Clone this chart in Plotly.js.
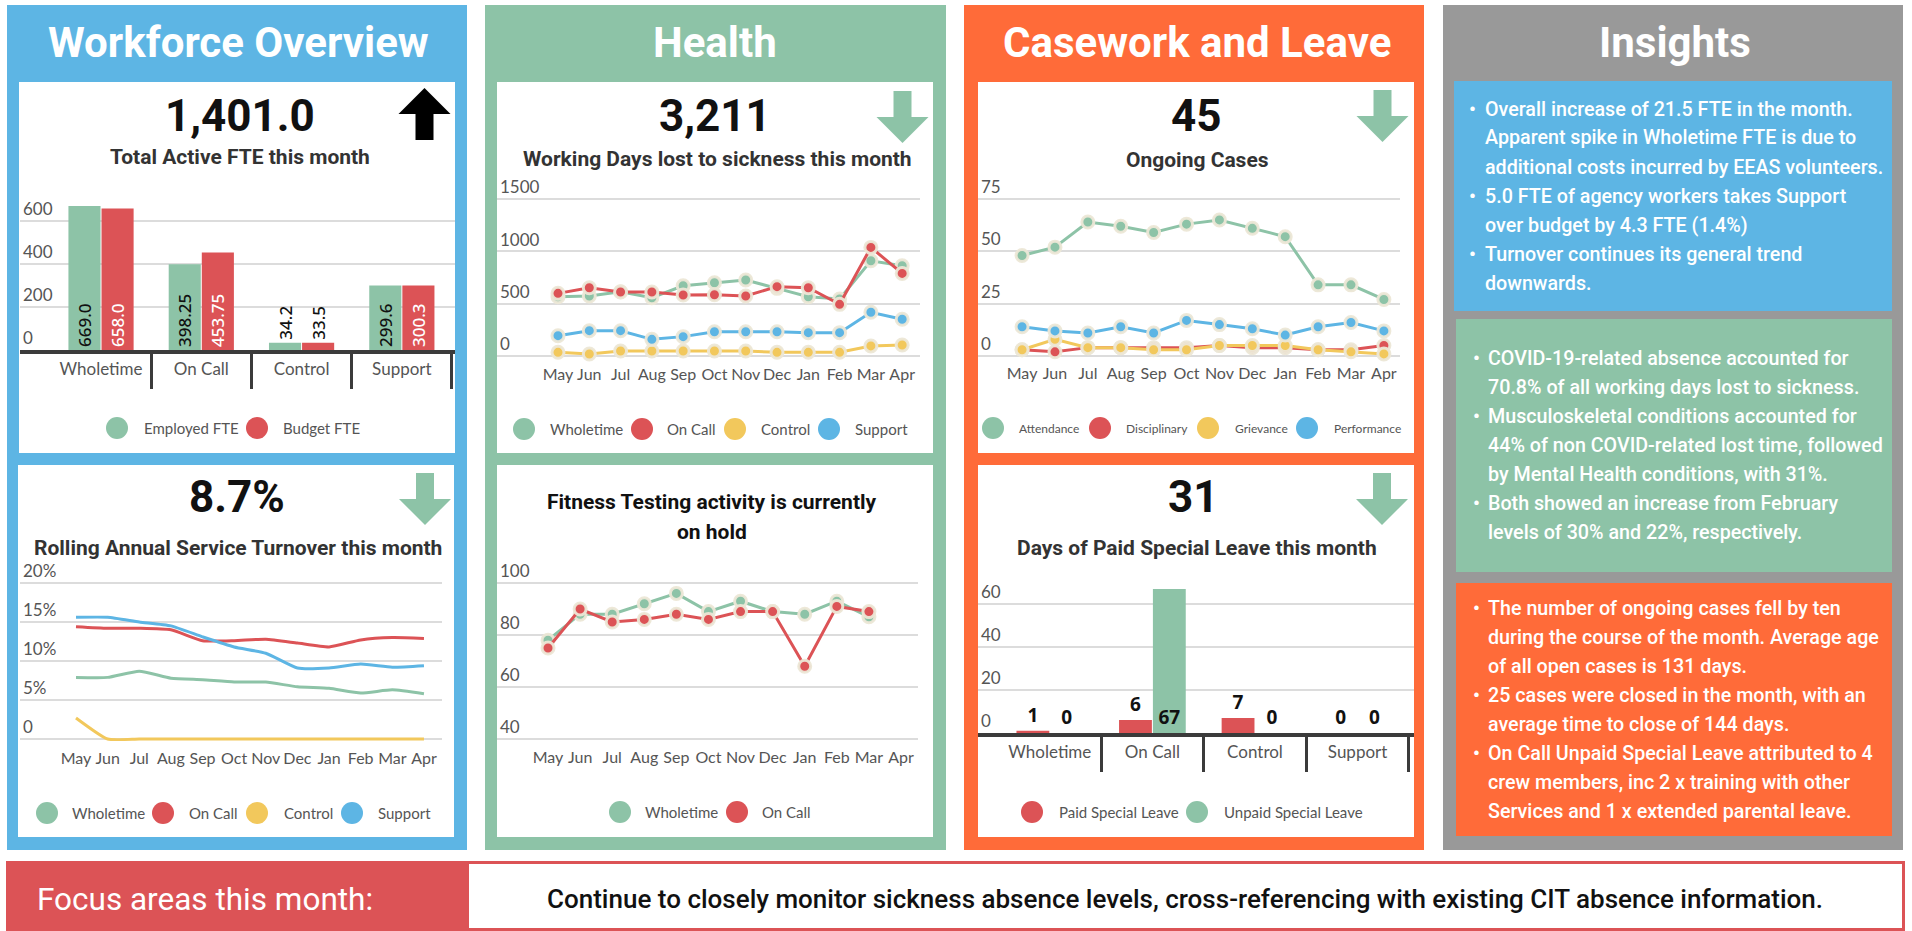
<!DOCTYPE html>
<html>
<head>
<meta charset="utf-8">
<script src="https://cdn.plot.ly/plotly-3.0.1.min.js"></script>
<style>
  html, body { margin: 0; padding: 0; background: #fff; overflow: hidden; }
  #dash { width: 1912px; height: 931px; }
</style>
</head>
<body>
<div id="dash"></div>
<script>
// --- data ---
const months = ['May', 'Jun', 'Jul', 'Aug', 'Sep', 'Oct', 'Nov', 'Dec', 'Jan', 'Feb', 'Mar', 'Apr'];
const staffGroups = ['Wholetime', 'On Call', 'Control', 'Support'];

// workforce
const employedFte = [669.0, 398.25, 34.2, 299.6];
const budgetFte = [658.0, 453.75, 33.5, 300.3];

// rolling annual turnover (%)
const turnoverWholetime = [7.9, 7.9, 8.7, 7.8, 7.6, 7.3, 7.3, 6.7, 6.5, 5.9, 6.3, 5.8];
const turnoverOnCall = [14.4, 14.2, 14.2, 14.0, 12.6, 12.6, 12.8, 12.3, 11.8, 12.7, 13.0, 12.9];
const turnoverControl = [2.7, 0, 0, 0, 0, 0, 0, 0, 0, 0, 0, 0];
const turnoverSupport = [15.6, 15.6, 15.0, 14.5, 13.1, 11.8, 11.0, 9.1, 9.1, 9.6, 9.2, 9.4];

// working days lost to sickness
const sickWholetime = [567, 574, 615, 557, 672, 701, 727, 647, 567, 545, 911, 863];
const sickOnCall = [599, 653, 612, 612, 583, 586, 574, 663, 653, 494, 1039, 790];
const sickControl = [35, 19, 48, 48, 48, 48, 48, 35, 35, 35, 96, 105];
const sickSupport = [194, 242, 242, 159, 185, 232, 232, 232, 223, 223, 418, 351];

// fitness testing (Apr not recorded)
const fitnessWholetime = [78, 88, 88, 92, 96, 89, 93, 89, 88, 93, 87, null];
const fitnessOnCall = [75, 90, 85, 86, 88, 86, 89, 89, 68, 91, 89, null];

// ongoing cases
const casesAttendance = [48, 52, 64, 62, 59, 63, 65, 61, 57, 34, 34, 27];
const casesDisciplinary = [3, 2, 4, 4, 4, 4, 5, 4, 4, 3, 3, 5];
const casesGrievance = [3, 8, 4, 4, 3, 3, 5, 5, 5, 3, 2, 1];
const casesPerformance = [14, 12, 11, 14, 11, 17, 15, 13, 10, 14, 16, 12];

// special leave days
const paidLeave = [1, 6, 7, 0];
const unpaidLeave = [0, 67, 0, 0];

// headline figures
const headlines = {
    fte: '1,401.0', turnover: '8.7%', sickness: '3,211', cases: '45', leave: '31'
};

const insightsWorkforce = [
    ['Overall increase of 21.5 FTE in the month.', 'Apparent spike in Wholetime FTE is due to', 'additional costs incurred by EEAS volunteers.'],
    ['5.0 FTE of agency workers takes Support', 'over budget by 4.3 FTE (1.4%)'],
    ['Turnover continues its general trend', 'downwards.']
];
const insightsHealth = [
    ['COVID-19-related absence accounted for', '70.8% of all working days lost to sickness.'],
    ['Musculoskeletal conditions accounted for', '44% of non COVID-related lost time, followed', 'by Mental Health conditions, with 31%.'],
    ['Both showed an increase from February', 'levels of 30% and 22%, respectively.']
];
const insightsCasework = [
    ['The number of ongoing cases fell by ten', 'during the course of the month. Average age', 'of all open cases is 131 days.'],
    ['25 cases were closed in the month, with an', 'average time to close of 144 days.'],
    ['On Call Unpaid Special Leave attributed to 4', 'crew members, inc 2 x training with other', 'Services and 1 x extended parental leave.']
];
const focusText = 'Continue to closely monitor sickness absence levels, cross-referencing with existing CIT absence information.';

// --- helpers ---
const W = 1912, H = 931;
const fx = x => x / W;
const fy = y => 1 - y / H;

const GREEN = '#8dc3a7', RED = '#dc5356', YELLOW = '#f2c85c', BLUE = '#5db5e4';
const ORANGE = '#ff6b39', GREY = '#999999', TEXT = '#555555';

const shapes = [];
const annotations = [];

function rect(x0, y0, x1, y1, color) {
    shapes.push({
        type: 'rect', xref: 'paper', yref: 'paper', layer: 'below',
        x0: fx(x0), x1: fx(x1), y0: fy(y1), y1: fy(y0),
        fillcolor: color, line: { width: 0 }
    });
}

function label(x, y, text, size, color, opts) {
    opts = opts || {};
    annotations.push({
        xref: 'paper', yref: 'paper', x: fx(x), y: fy(y), text: text,
        showarrow: false, xanchor: opts.anchor || 'center', yanchor: 'middle',
        font: { family: opts.family || 'Roboto', size: size, color: color, weight: opts.weight || 400 }
    });
}

// block arrow, cx = centre, top = top pixel, up or down
function arrow(cx, top, up, color) {
    const hw = 26, sw = 9, hh = 26, h = 52;
    let pts;
    if (up) {
        pts = [[cx, top], [cx + hw, top + hh], [cx + sw, top + hh], [cx + sw, top + h],
               [cx - sw, top + h], [cx - sw, top + hh], [cx - hw, top + hh]];
    } else {
        pts = [[cx - sw, top], [cx + sw, top], [cx + sw, top + hh], [cx + hw, top + hh],
               [cx, top + h], [cx - hw, top + hh], [cx - sw, top + hh]];
    }
    const path = 'M' + pts.map(p => fx(p[0]) + ',' + fy(p[1])).join(' L') + ' Z';
    shapes.push({ type: 'path', xref: 'paper', yref: 'paper', path: path, fillcolor: color, line: { width: 0 } });
}

// legend row: circles + names
function legendRow(y, items, size) {
    items.forEach(it => {
        shapes.push({
            type: 'circle', xref: 'paper', yref: 'paper',
            x0: fx(it.cx - 11), x1: fx(it.cx + 11), y0: fy(y + 11), y1: fy(y - 11),
            fillcolor: it.color, line: { width: 0 }
        });
        label(it.tx, y, it.name, size, TEXT, { anchor: 'left', family: 'Lato' });
    });
}

function bullets(paras, bx, tx, y0, step) {
    let y = y0;
    paras.forEach(lines => {
        lines.forEach((line, i) => {
            if (i === 0) label(bx, y, '•', 19, '#fff', { weight: 700 });
            label(tx, y, line, 19.7, '#fff', { anchor: 'left', weight: 500 });
            y += step;
        });
    });
}

const tickFont = { family: 'Lato', size: 17, color: TEXT };
const monthFont = { family: 'Lato', size: 16, color: TEXT };

function valueAxis(bottom, top, range, tickvals, ticktext) {
    return {
        domain: [fy(bottom), fy(top)], range: range, tickvals: tickvals, ticktext: ticktext,
        ticklabelposition: 'inside top', ticks: '', showgrid: true, gridcolor: '#dcdcdc', gridwidth: 2,
        zeroline: false, showline: false, tickfont: tickFont, fixedrange: true
    };
}

function monthAxis(left, right, range, anchor) {
    return {
        domain: [fx(left), fx(right)], anchor: anchor, type: 'category', categoryarray: months,
        range: range, showgrid: false, zeroline: false, showline: false, ticks: '',
        tickangle: 0, ticklabelstandoff: 4, tickfont: monthFont, fixedrange: true
    };
}

function groupAxis(left, right, range, anchor) {
    return {
        domain: [fx(left), fx(right)], anchor: anchor, type: 'category', categoryarray: staffGroups,
        range: range, tickson: 'boundaries', ticks: 'outside', ticklen: 35, tickwidth: 3,
        tickcolor: '#3b3b3b', showline: true, linewidth: 4, linecolor: '#3b3b3b', tickangle: 0,
        showgrid: false, zeroline: false, tickfont: tickFont, ticklabelstandoff: 1, fixedrange: true
    };
}

function lineTrace(y, name, color, xa, ya, smooth) {
    const t = {
        type: 'scatter', x: months, y: y, name: name, xaxis: xa, yaxis: ya,
        line: { color: color, width: 3 }, cliponaxis: false, hoverinfo: 'skip'
    };
    if (smooth) {
        t.mode = 'lines';
        t.line.shape = 'spline';
        t.line.smoothing = 0.5;
    } else {
        t.mode = 'lines+markers';
        t.marker = { size: 12, color: color, line: { color: 'rgba(236,231,214,0.95)', width: 3 } };
    }
    return t;
}

const fteLabel = v => (v % 1 === 0 ? v.toFixed(1) : String(v));

// --- panels ---
rect(7, 5, 467, 850, BLUE);
rect(485, 5, 946, 850, GREEN);
rect(964, 5, 1424, 850, ORANGE);
rect(1443, 5, 1903, 850, GREY);

rect(19, 82, 455, 453, '#fff');
rect(18, 465, 454, 837, '#fff');
rect(497, 82, 933, 453, '#fff');
rect(497, 465, 933, 837, '#fff');
rect(978, 82, 1414, 453, '#fff');
rect(978, 465, 1414, 837, '#fff');

rect(1454, 81, 1892, 311, BLUE);
rect(1456, 319, 1892, 572, GREEN);
rect(1456, 583, 1892, 836, ORANGE);

// focus banner
rect(6, 861, 1905, 931, RED);
rect(469, 864, 1902, 928, '#fff');

label(238, 43, 'Workforce Overview', 42, '#fff', { weight: 700 });
label(715, 43, 'Health', 42, '#fff', { weight: 700 });
label(1197, 43, 'Casework and Leave', 42, '#fff', { weight: 700 });
label(1675, 43, 'Insights', 42, '#fff', { weight: 700 });

// headline numbers + subtitles
label(240, 116, headlines.fte, 44, '#111', { weight: 700 });
label(240, 157, 'Total Active FTE this month', 21, '#333', { weight: 700 });
arrow(424.5, 88, true, '#000');

label(237, 497, headlines.turnover, 44, '#111', { weight: 700 });
label(238, 548, 'Rolling Annual Service Turnover this month', 21, '#333', { weight: 700 });
arrow(425, 473, false, GREEN);

label(715, 116, headlines.sickness, 44, '#111', { weight: 700 });
label(717, 159, 'Working Days lost to sickness this month', 21, '#333', { weight: 700 });
arrow(902.5, 91, false, GREEN);

label(712, 502, 'Fitness Testing activity is currently', 21, '#111', { weight: 700 });
label(712, 532, 'on hold', 21, '#111', { weight: 700 });

label(1196, 116, headlines.cases, 44, '#111', { weight: 700 });
label(1197, 160, 'Ongoing Cases', 21, '#333', { weight: 700 });
arrow(1382.5, 90, false, GREEN);

label(1193, 497, headlines.leave, 44, '#111', { weight: 700 });
label(1197, 548, 'Days of Paid Special Leave this month', 21, '#333', { weight: 700 });
arrow(1382, 473, false, GREEN);

// legends
legendRow(428, [
    { cx: 117, tx: 142, name: 'Employed FTE', color: GREEN },
    { cx: 257, tx: 281, name: 'Budget FTE', color: RED }
], 15);
legendRow(813, [
    { cx: 47, tx: 70, name: 'Wholetime', color: GREEN },
    { cx: 163, tx: 187, name: 'On Call', color: RED },
    { cx: 257, tx: 282, name: 'Control', color: YELLOW },
    { cx: 352, tx: 376, name: 'Support', color: BLUE }
], 15);
legendRow(429, [
    { cx: 524, tx: 548, name: 'Wholetime', color: GREEN },
    { cx: 642, tx: 665, name: 'On Call', color: RED },
    { cx: 735, tx: 759, name: 'Control', color: YELLOW },
    { cx: 829, tx: 853, name: 'Support', color: BLUE }
], 15);
legendRow(812, [
    { cx: 620, tx: 643, name: 'Wholetime', color: GREEN },
    { cx: 737, tx: 760, name: 'On Call', color: RED }
], 15);
legendRow(428, [
    { cx: 993, tx: 1017, name: 'Attendance', color: GREEN },
    { cx: 1100, tx: 1124, name: 'Disciplinary', color: RED },
    { cx: 1208, tx: 1233, name: 'Grievance', color: YELLOW },
    { cx: 1307, tx: 1332, name: 'Performance', color: BLUE }
], 12);
legendRow(812, [
    { cx: 1032, tx: 1057, name: 'Paid Special Leave', color: RED },
    { cx: 1197, tx: 1222, name: 'Unpaid Special Leave', color: GREEN }
], 15);

// insights
bullets(insightsWorkforce, 1472, 1483, 109, 29);
bullets(insightsHealth, 1476, 1486, 358, 29.1);
bullets(insightsCasework, 1476, 1486, 608, 29.1);

label(35, 899, 'Focus areas this month:', 31.5, '#fff', { anchor: 'left' });
label(1185, 899, focusText, 26, '#111', { weight: 500 });

// --- traces ---
const traces = [];

// workforce FTE bars
traces.push({
    type: 'bar', x: staffGroups, y: employedFte, name: 'Employed FTE', xaxis: 'x', yaxis: 'y',
    marker: { color: GREEN }, text: employedFte.map(fteLabel),
    textposition: employedFte.map(v => (v > 100 ? 'inside' : 'outside')),
    textangle: -90, insidetextanchor: 'start', constraintext: 'none', cliponaxis: false,
    textfont: { family: 'Noto Sans', size: 17, color: '#111', weight: 500 }, hoverinfo: 'skip'
});
traces.push({
    type: 'bar', x: staffGroups, y: budgetFte, name: 'Budget FTE', xaxis: 'x', yaxis: 'y',
    marker: { color: RED }, text: budgetFte.map(fteLabel),
    textposition: budgetFte.map(v => (v > 100 ? 'inside' : 'outside')),
    textangle: -90, insidetextanchor: 'start', constraintext: 'none', cliponaxis: false,
    textfont: { family: 'Noto Sans', size: 17, color: budgetFte.map(v => (v > 100 ? '#fff' : '#111')), weight: 500 },
    hoverinfo: 'skip'
});

// turnover
traces.push(lineTrace(turnoverWholetime, 'Wholetime', GREEN, 'x2', 'y2', true));
traces.push(lineTrace(turnoverOnCall, 'On Call', RED, 'x2', 'y2', true));
traces.push(lineTrace(turnoverControl, 'Control', YELLOW, 'x2', 'y2', true));
traces.push(lineTrace(turnoverSupport, 'Support', BLUE, 'x2', 'y2', true));

// sickness
traces.push(lineTrace(sickWholetime, 'Wholetime', GREEN, 'x3', 'y3'));
traces.push(lineTrace(sickOnCall, 'On Call', RED, 'x3', 'y3'));
traces.push(lineTrace(sickControl, 'Control', YELLOW, 'x3', 'y3'));
traces.push(lineTrace(sickSupport, 'Support', BLUE, 'x3', 'y3'));

// fitness
traces.push(lineTrace(fitnessWholetime, 'Wholetime', GREEN, 'x4', 'y4'));
traces.push(lineTrace(fitnessOnCall, 'On Call', RED, 'x4', 'y4'));

// cases
traces.push(lineTrace(casesAttendance, 'Attendance', GREEN, 'x5', 'y5'));
traces.push(lineTrace(casesDisciplinary, 'Disciplinary', RED, 'x5', 'y5'));
traces.push(lineTrace(casesGrievance, 'Grievance', YELLOW, 'x5', 'y5'));
traces.push(lineTrace(casesPerformance, 'Performance', BLUE, 'x5', 'y5'));

// special leave
traces.push({
    type: 'bar', x: staffGroups, y: paidLeave, name: 'Paid Special Leave', xaxis: 'x6', yaxis: 'y6',
    marker: { color: RED }, text: paidLeave.map(String), textposition: 'outside',
    constraintext: 'none', cliponaxis: false,
    textfont: { family: 'Noto Sans', size: 19, color: '#111', weight: 700 }, hoverinfo: 'skip'
});
traces.push({
    type: 'bar', x: staffGroups, y: unpaidLeave, name: 'Unpaid Special Leave', xaxis: 'x6', yaxis: 'y6',
    marker: { color: GREEN }, text: unpaidLeave.map(String),
    textposition: unpaidLeave.map(v => (v > 20 ? 'inside' : 'outside')), insidetextanchor: 'start',
    constraintext: 'none', cliponaxis: false,
    textfont: { family: 'Noto Sans', size: 19, color: '#111', weight: 700 }, hoverinfo: 'skip'
});

const layout = {
    width: W, height: H,
    margin: { l: 0, r: 0, t: 0, b: 0 },
    paper_bgcolor: '#fff', plot_bgcolor: 'rgba(0,0,0,0)',
    font: { family: 'Lato', color: TEXT },
    showlegend: false,
    bargap: 0.34, bargroupgap: 0.03,
    shapes: shapes, annotations: annotations,

    xaxis: groupAxis(20, 455, [-0.808, 3.53], 'y'),
    yaxis: Object.assign(valueAxis(350, 184.4, [0, 770], [0, 200, 400, 600]), { anchor: 'x' }),

    xaxis2: monthAxis(20, 442, [-1.77, 11.57], 'y2'),
    yaxis2: Object.assign(valueAxis(742.9, 555.7, [-0.5, 23.5], [0, 5, 10, 15, 20], ['0', '5%', '10%', '15%', '20%']), { anchor: 'x2' }),

    xaxis3: monthAxis(497, 920, [-1.95, 11.57], 'y3'),
    yaxis3: Object.assign(valueAxis(359.1, 171, [-30, 1770], [0, 500, 1000, 1500]), { anchor: 'x3' }),

    xaxis4: monthAxis(497, 918, [-1.59, 11.53], 'y4'),
    yaxis4: Object.assign(valueAxis(741.6, 554.4, [39, 111], [40, 60, 80, 100]), { anchor: 'x4' }),

    xaxis5: monthAxis(978, 1400, [-1.34, 11.49], 'y5'),
    yaxis5: Object.assign(valueAxis(358.1, 169.7, [-1, 89], [0, 25, 50, 75]), { anchor: 'x5' }),

    xaxis6: groupAxis(978, 1414, [-0.70, 3.55], 'y6'),
    yaxis6: Object.assign(valueAxis(733, 571.8, [0, 75], [0, 20, 40, 60]), { anchor: 'x6' })
};

Plotly.newPlot('dash', traces, layout, { staticPlot: true, displayModeBar: false });
</script>
</body>
</html>
